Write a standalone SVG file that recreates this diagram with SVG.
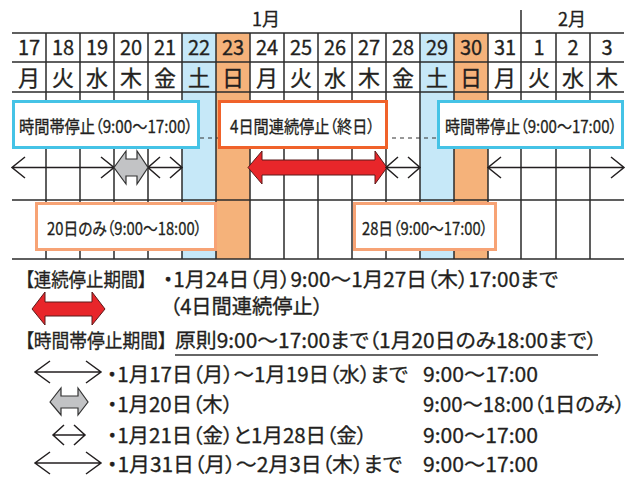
<svg xmlns="http://www.w3.org/2000/svg" width="639" height="479" viewBox="0 0 639 479">
<style>
text{font-family:"Noto Sans CJK JP","Noto Sans",sans-serif;fill:#231f20;stroke:#231f20;stroke-width:0.3}
.p{font-feature-settings:"palt" 1}
.num{font-size:20px;text-anchor:middle}
.wd{font-size:22px;text-anchor:middle}
.mon{font-size:18px;text-anchor:middle}
.bx{font-size:17px;text-anchor:middle}
.lg{font-size:19px}
.lt{font-size:20px}
.grid{stroke:#2b2b2b;stroke-width:1.5;fill:none}
.cyan{fill:#fff;stroke:#45c3e6;stroke-width:3}
.red{fill:#fff;stroke:#f0622a;stroke-width:3}
.lor{fill:#fff;stroke:#f7a375;stroke-width:3}
.thin{stroke:#231f20;stroke-width:1.5;fill:none}
.fatred{fill:#e8262a;stroke:#5a1a1a;stroke-width:1}
.fatgray{fill:#c2c3c5;stroke:#333;stroke-width:1.2}
</style>
<rect width="639" height="479" fill="#fff"/>
<g id="calendar">
<rect x="182" y="33" width="34" height="226" fill="#c6e8f8"/>
<rect x="216" y="33" width="34" height="226" fill="#f5b27a"/>
<rect x="420" y="33" width="34" height="226" fill="#c6e8f8"/>
<rect x="454" y="33" width="34" height="226" fill="#f5b27a"/>
<path class="grid" d="M12,33H624M12,62H624M12,92H624M12,200H624M12,259H624"/>
<path class="grid" d="M46,33V259M80,33V259M114,33V259M148,33V259M182,33V259M216,33V259M250,33V259M284,33V259M318,33V259M352,33V259M386,33V259M420,33V259M454,33V259M488,33V259M521,10V259M556,33V259M590,33V259"/>
<text class="mon" x="266" y="26">1月</text>
<text class="mon" x="572" y="26">2月</text>
<g>
<text class="num" x="29" y="55">17</text><text class="num" x="63" y="55">18</text><text class="num" x="97" y="55">19</text><text class="num" x="131" y="55">20</text><text class="num" x="165" y="55">21</text><text class="num" x="199" y="55">22</text><text class="num" x="233" y="55">23</text><text class="num" x="267" y="55">24</text><text class="num" x="301" y="55">25</text><text class="num" x="335" y="55">26</text><text class="num" x="369" y="55">27</text><text class="num" x="403" y="55">28</text><text class="num" x="437" y="55">29</text><text class="num" x="471" y="55">30</text><text class="num" x="505" y="55">31</text><text class="num" x="539" y="55">1</text><text class="num" x="573" y="55">2</text><text class="num" x="607" y="55">3</text>
</g>
<g>
<text class="wd" x="29" y="86">月</text><text class="wd" x="63" y="86">火</text><text class="wd" x="97" y="86">水</text><text class="wd" x="131" y="86">木</text><text class="wd" x="165" y="86">金</text><text class="wd" x="199" y="86">土</text><text class="wd" x="233" y="86">日</text><text class="wd" x="267" y="86">月</text><text class="wd" x="301" y="86">火</text><text class="wd" x="335" y="86">水</text><text class="wd" x="369" y="86">木</text><text class="wd" x="403" y="86">金</text><text class="wd" x="437" y="86">土</text><text class="wd" x="471" y="86">日</text><text class="wd" x="505" y="86">月</text><text class="wd" x="539" y="86">火</text><text class="wd" x="573" y="86">水</text><text class="wd" x="607" y="86">木</text>
</g>
</g>
<g id="connectors">
<path d="M200,138H437" stroke="#333" stroke-width="1" stroke-dasharray="4,4" fill="none"/>
<path class="thin" d="M12,167.5H114M25,157L12,167.5L25,178M101,157L114,167.5L101,178"/>
<path class="thin" d="M148,167.5H182M160,157L148,167.5L160,178M170,157L182,167.5L170,178"/>
<polygon class="fatgray" points="114,167.5 126,151 126,159 137,159 137,151 148,167.5 137,184 137,176 126,176 126,184"/>
<polygon class="fatred" points="248,167.5 262,151 262,160 375,160 375,151 387,167.5 375,184 375,175 262,175 262,184"/>
<path class="thin" d="M386,167.5H420M398,157L386,167.5L398,178M408,157L420,167.5L408,178"/>
<path class="thin" d="M488,167.5H624M501,157L488,167.5L501,178M611,157L624,167.5L611,178"/>
</g>
<g id="box-jikan-left">
<rect class="cyan" x="13.5" y="101.5" width="185" height="46"/>
<text class="bx p" x="106" y="133" textLength="174" lengthAdjust="spacingAndGlyphs">時間帯停止（9:00〜17:00）</text>
</g>
<g id="box-renzoku">
<rect class="red" x="219.5" y="101.5" width="167" height="46"/>
<text class="bx p" x="302.5" y="133" textLength="145" lengthAdjust="spacingAndGlyphs">4日間連続停止（終日）</text>
</g>
<g id="box-jikan-right">
<rect class="cyan" x="438.5" y="101.5" width="184" height="46"/>
<text class="bx p" x="531" y="133" textLength="172" lengthAdjust="spacingAndGlyphs">時間帯停止（9:00〜17:00）</text>
</g>
<g id="box-20">
<rect class="lor" x="36.5" y="203.5" width="179" height="46"/>
<text class="bx p" x="124.5" y="235" textLength="155" lengthAdjust="spacingAndGlyphs">20日のみ（9:00〜18:00）</text>
</g>
<g id="box-28">
<rect class="lor" x="354.5" y="203.5" width="141" height="46"/>
<text class="bx p" x="425" y="235" textLength="126" lengthAdjust="spacingAndGlyphs">28日（9:00〜17:00）</text>
</g>
<g id="legend">
<text class="lg p" x="25" y="287" textLength="122" lengthAdjust="spacingAndGlyphs">【連続停止期間】</text>
<text class="lt p" x="163" y="287" textLength="395" lengthAdjust="spacingAndGlyphs">・1月24日（月）9:00〜1月27日（木）17:00まで</text>
<text class="lt p" x="170" y="314" textLength="153" lengthAdjust="spacingAndGlyphs">（4日間連続停止）</text>
<polygon class="fatred" points="32,309 45,292 45,302 92,302 92,292 105,309 92,325 92,316 45,316 45,325"/>
<text class="lg p" x="25" y="348" textLength="142" lengthAdjust="spacingAndGlyphs">【時間帯停止期間】</text>
<text class="lt p" x="175" y="348" textLength="422" lengthAdjust="spacingAndGlyphs">原則9:00〜17:00まで（1月20日のみ18:00まで）</text>
<path d="M175,355H598" stroke="#333" stroke-width="1.5"/>
<path class="thin" d="M35,372H101M50,361L35,372L50,383M86,361L101,372L86,383"/>
<polygon class="fatgray" points="50,402 61,388 61,396 78,396 78,388 88,402 78,415 78,408 61,408 61,415"/>
<path class="thin" d="M53,435H85M64,425L53,435L64,445M74,425L85,435L74,445"/>
<path class="thin" d="M35,463H101M50,452L35,463L50,474M86,452L101,463L86,474"/>
<text class="lt p" x="107" y="382" textLength="301" lengthAdjust="spacingAndGlyphs">・1月17日（月）〜1月19日（水）まで</text>
<text class="lt p" x="423" y="382" textLength="115" lengthAdjust="spacingAndGlyphs">9:00〜17:00</text>
<text class="lt p" x="107" y="412" textLength="126" lengthAdjust="spacingAndGlyphs">・1月20日（木）</text>
<text class="lt p" x="423" y="412" textLength="202" lengthAdjust="spacingAndGlyphs">9:00〜18:00（1日のみ）</text>
<text class="lt p" x="107" y="443" textLength="260" lengthAdjust="spacingAndGlyphs">・1月21日（金）と1月28日（金）</text>
<text class="lt p" x="423" y="443" textLength="115" lengthAdjust="spacingAndGlyphs">9:00〜17:00</text>
<text class="lt p" x="107" y="472" textLength="295" lengthAdjust="spacingAndGlyphs">・1月31日（月）〜2月3日（木）まで</text>
<text class="lt p" x="423" y="472" textLength="115" lengthAdjust="spacingAndGlyphs">9:00〜17:00</text>
</g>
</svg>
